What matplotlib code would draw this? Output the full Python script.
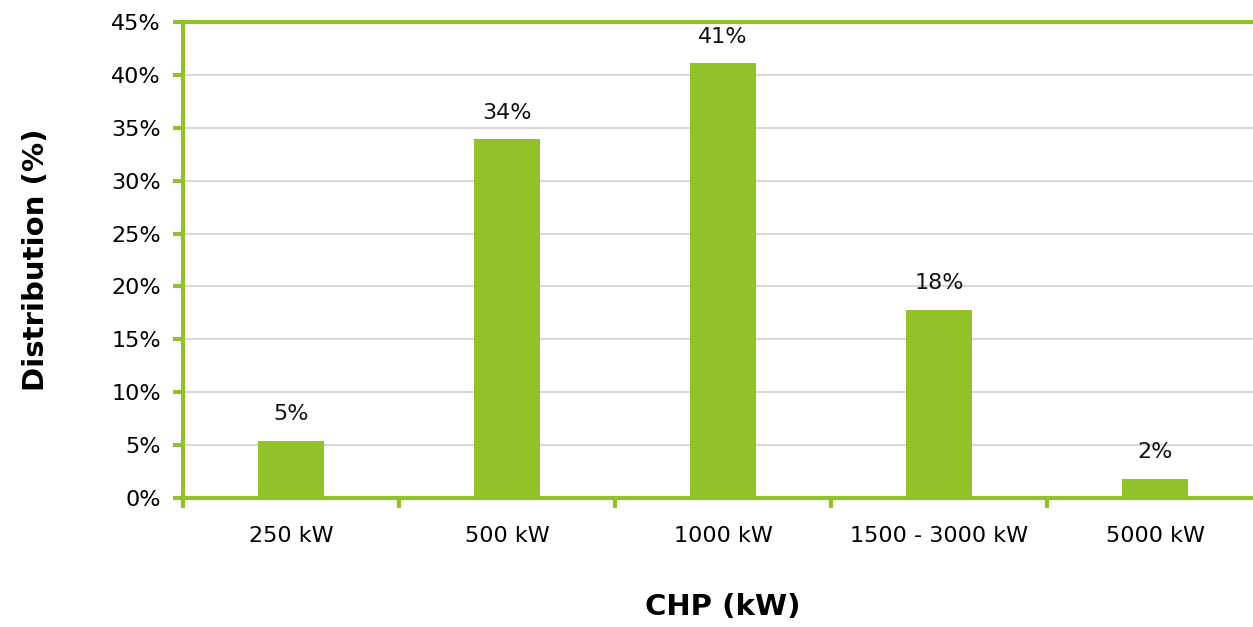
import numpy as np
import matplotlib
matplotlib.use('Agg')
import matplotlib.pyplot as plt
from matplotlib.ticker import FixedLocator, PercentFormatter

categories = ['250 kW', '500 kW', '1000 kW', '1500 - 3000 kW', '5000 kW']
values = [5.4, 33.9, 41.1, 17.8, 1.8]
labels = ['5%', '34%', '41%', '18%', '2%']

green = '#92C12A'
grid = '#D9D9D9'

plt.rcParams['font.family'] = ['DejaVu Sans']

fig = plt.figure(figsize=(12.53, 6.27), dpi=100)
ax = fig.add_axes([183/1253, 1 - 498/627, 1080/1253, 476/627])

x = np.arange(len(categories))
ax.bar(x, values, width=0.31, color=green, zorder=3)
for xi, v, lab in zip(x, values, labels):
    ax.annotate(lab, (xi, v), xytext=(0, 12), textcoords='offset points',
                ha='center', va='bottom', fontsize=16, color='#111111')

ax.set_xlim(-0.5, 4.5)
ax.set_ylim(0, 45)
ax.set_yticks(np.arange(0, 46, 5))
ax.yaxis.set_major_formatter(PercentFormatter(decimals=0))
ax.yaxis.grid(True, color=grid, lw=1.5, zorder=0)
ax.set_xticks(x)
ax.set_xticklabels(categories)
ax.xaxis.set_minor_locator(FixedLocator(np.arange(-0.5, 5, 1)))
ax.tick_params(axis='x', which='major', length=0, pad=20, labelsize=16)
ax.tick_params(axis='x', which='minor', length=7, width=3, color=green)
ax.tick_params(axis='y', length=7, width=3, color=green, labelsize=16, pad=9)

for s in ['left', 'bottom', 'top']:
    ax.spines[s].set_color(green)
    ax.spines[s].set_linewidth(3)
ax.spines['right'].set_visible(False)

ax.set_xlabel('CHP (kW)', fontsize=21, fontweight='bold', labelpad=34)
ax.set_ylabel('Distribution (%)', fontsize=21, fontweight='bold', labelpad=44)

plt.savefig('out.png', dpi=100)
